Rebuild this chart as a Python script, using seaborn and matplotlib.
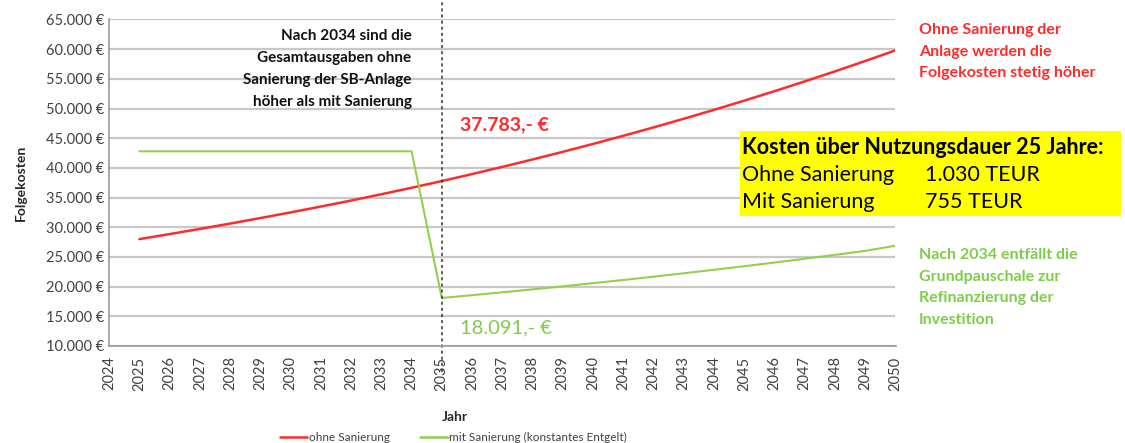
import seaborn as sns
import matplotlib.pyplot as plt
import matplotlib.ticker as mticker
import pandas as pd

# Daten
jahre = list(range(2025, 2051))
ohne_sanierung = [28000, 28850, 29720, 30620, 31550, 32500, 33490, 34500, 35560, 36650,
                  37783, 38960, 40170, 41420, 42710, 44040, 45410, 46820, 48280, 49780,
                  51330, 52930, 54570, 56260, 58010, 59800]
mit_sanierung = [42800, 42800, 42800, 42800, 42800, 42800, 42800, 42800, 42800, 42800,
                 18091, 18560, 19040, 19540, 20050, 20580, 21120, 21680, 22250, 22840,
                 23440, 24060, 24700, 25350, 26020, 26900]
serien = ["ohne Sanierung", "mit Sanierung (konstantes Entgelt)"]
farben = ["#ff2a2a", "#92d050"]

df = pd.DataFrame({"Jahr": jahre * 2,
                   "Folgekosten": ohne_sanierung + mit_sanierung,
                   "Serie": [serien[0]] * len(jahre) + [serien[1]] * len(jahre)})

sns.set_style("white")
plt.rcParams['font.family'] = ['Lato', 'DejaVu Sans']

fig = plt.figure(figsize=(11.25, 4.43), dpi=100)
ax = fig.add_axes([0.097, 0.219, 0.699, 0.737])

sns.lineplot(data=df, x="Jahr", y="Folgekosten", hue="Serie", palette=farben,
             ax=ax, legend=False, linewidth=1.8)
ax.lines[1].set_linewidth(1.5)

ax.set_xlim(2024, 2050)
ax.set_ylim(10000, 65000)
ax.set_xticks(range(2024, 2051))
ax.set_yticks(range(10000, 65001, 5000))
ax.yaxis.set_major_formatter(mticker.FuncFormatter(lambda v, p: f"{int(v):,} €".replace(",", ".")))
ax.tick_params(axis="x", rotation=90, labelsize=10.5, labelcolor="#404040",
               direction="inout", length=8, color="#999999", width=1)
ax.tick_params(axis="y", labelsize=10.5, labelcolor="#404040", length=0)
ax.grid(axis="y", color="#c8c8c8", linewidth=1.6)
ax.grid(axis="x", visible=False)
ax.set_axisbelow(True)
for s in ["top", "right"]:
    ax.spines[s].set_visible(False)
for s in ["left", "bottom"]:
    ax.spines[s].set_color("#999999")
    ax.spines[s].set_linewidth(1.2)

ax.set_xlabel("Jahr", fontsize=10, fontweight="bold")
ax.xaxis.set_label_coords(0.44, -0.2)
ax.set_ylabel("Folgekosten", fontsize=10, fontweight="bold")
ax.yaxis.set_label_coords(-0.105, 0.5)

# gestrichelte Linie 2035
ax.axvline(2035, ymin=-0.08, ymax=1.06, color="#333333", linestyle=(0, (2, 2)),
           linewidth=1.1, clip_on=False)

# Texte
ax.text(2034.0, 63400, "Nach 2034 sind die\nGesamtausgaben ohne\nSanierung der SB-Anlage\nhöher als mit Sanierung",
        ha="right", va="top", fontsize=11, fontweight="bold", color="#111111", linespacing=1.72)
ax.text(2035.6, 47200, "37.783,- €", ha="left", va="center", fontsize=14,
        fontweight="bold", color="#ff2a2a")
ax.text(2035.6, 13000, "18.091,- €", ha="left", va="center", fontsize=14.5,
        color="#7fcc4a")
fig.text(0.817, 0.948, "Ohne Sanierung der\nAnlage werden die\nFolgekosten stetig höher",
         ha="left", va="top", fontsize=11.5, fontweight="bold", color="#ff2a2a", linespacing=1.68)
fig.text(0.817, 0.44, "Nach 2034 entfällt die\nGrundpauschale zur\nRefinanzierung der\nInvestition",
         ha="left", va="top", fontsize=11.5, fontweight="bold", color="#7fcc4a", linespacing=1.68)

# gelbe Box
fig.patches.append(plt.Rectangle((0.658, 0.512), 0.338, 0.193, transform=fig.transFigure,
                                 facecolor="#ffff00", edgecolor="none"))
fig.text(0.660, 0.668, "Kosten über Nutzungsdauer 25 Jahre:", ha="left", va="center",
         fontsize=15.5, fontweight="bold", color="black")
fig.text(0.660, 0.605, "Ohne Sanierung", ha="left", va="center", fontsize=15.5, color="black")
fig.text(0.822, 0.605, "1.030 TEUR", ha="left", va="center", fontsize=15.5, color="black")
fig.text(0.660, 0.545, "Mit Sanierung", ha="left", va="center", fontsize=15.5, color="black")
fig.text(0.822, 0.545, "755 TEUR", ha="left", va="center", fontsize=15.5, color="black")

# Legende
handles = [plt.Line2D([], [], color=c, linewidth=1.8) for c in farben]
fig.legend(handles, serien, loc="lower center", bbox_to_anchor=(0.403, -0.025), ncol=2,
           frameon=False, fontsize=8.5, handlelength=2.3, handletextpad=0.1, columnspacing=2.6,
           labelcolor="#404040")

plt.savefig("out.png", dpi=100)
